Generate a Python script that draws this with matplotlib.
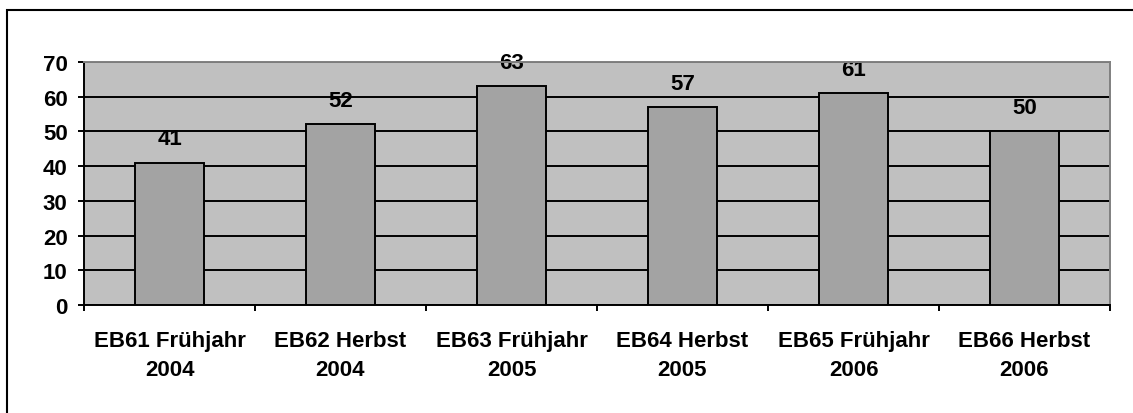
import matplotlib
matplotlib.use('Agg')
import matplotlib.pyplot as plt
from matplotlib.patches import Rectangle

# Daten
categories = ['EB61 Frühjahr\n2004', 'EB62 Herbst\n2004', 'EB63 Frühjahr\n2005',
              'EB64 Herbst\n2005', 'EB65 Frühjahr\n2006', 'EB66 Herbst\n2006']
values = [41, 52, 63, 57, 61, 50]
yticks = [0, 10, 20, 30, 40, 50, 60, 70]

plt.rcParams['font.family'] = ['Liberation Sans', 'DejaVu Sans']
plt.rcParams['font.weight'] = 'bold'


def main():
    fig = plt.figure(figsize=(11.33, 4.14), dpi=100)
    ax = fig.add_axes([84 / 1133, 1 - 306 / 414, (1110 - 84) / 1133, (306 - 63) / 414])

    # Rahmen um die Grafik (rechts und unten abgeschnitten)
    fig.patches.append(Rectangle((7 / 1133, -0.5), 2, 1.5 - 11 / 414, transform=fig.transFigure,
                                 fill=False, edgecolor='black', lw=1.5))

    x = list(range(len(categories)))
    ax.set_facecolor('#C0C0C0')
    ax.set_axisbelow(True)
    ax.grid(axis='y', color='black', lw=1.4)
    bars = ax.bar(x, values, width=0.4, color='#A3A3A3', edgecolor='black', lw=1.4, zorder=3)
    for b, v in zip(bars, values):
        ax.annotate(str(v), (b.get_x() + b.get_width() / 2, v), xytext=(0, 9.5),
                    textcoords='offset points', ha='center', va='bottom',
                    fontsize=16, fontweight='bold')

    ax.set_xlim(-0.5, len(categories) - 0.5)
    ax.set_ylim(0, 70)
    ax.set_yticks(yticks)
    ax.set_xticks(x)
    ax.set_xticklabels(categories, fontsize=16, fontweight='bold', linespacing=1.5)
    ax.set_xticks([i - 0.5 for i in range(len(categories) + 1)], minor=True)
    ax.tick_params(axis='x', which='major', length=0, pad=18)
    ax.tick_params(axis='x', which='minor', length=4.3, width=1.4, direction='out')
    ax.tick_params(axis='y', length=4.3, width=1.4, labelsize=16, pad=7.5)

    for s in ['top', 'right']:
        ax.spines[s].set_color('#808080')
        ax.spines[s].set_linewidth(1.4)
    for s in ['left', 'bottom']:
        ax.spines[s].set_color('black')
        ax.spines[s].set_linewidth(1.4)
    ax.spines['top'].set_zorder(4)

    fig.savefig('out.png', dpi=100)


if __name__ == '__main__':
    main()
